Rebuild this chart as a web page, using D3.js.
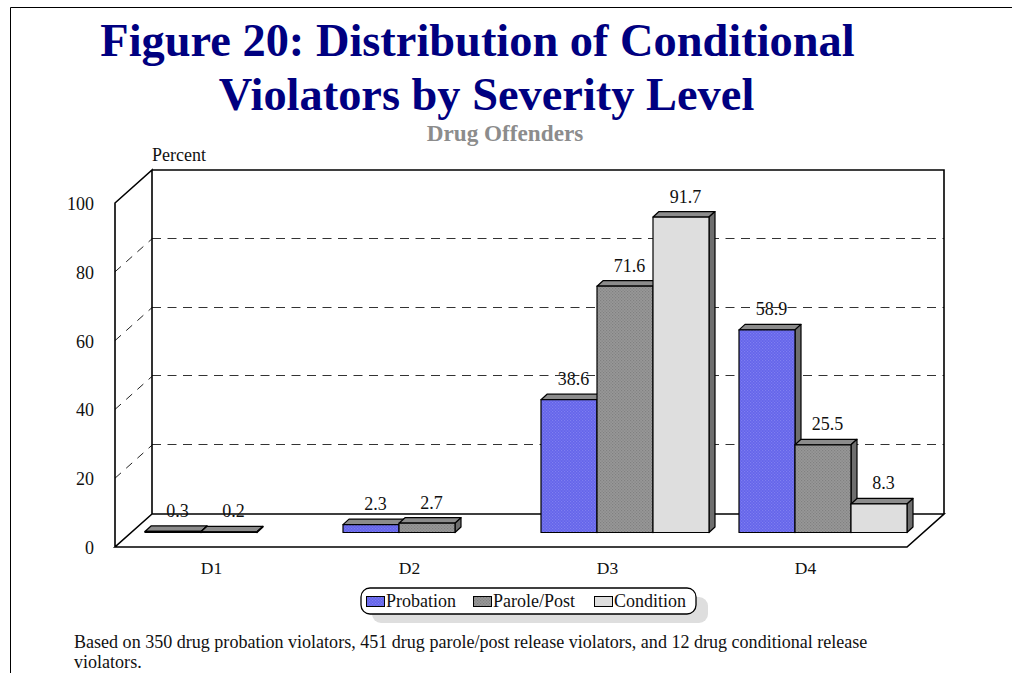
<!DOCTYPE html>
<html><head><meta charset="utf-8">
<script src="https://cdn.jsdelivr.net/npm/d3@7"></script>
<style>html,body{margin:0;padding:0;background:#fff;overflow:hidden}svg{display:block}text{font-family:"Liberation Serif",serif}</style>
</head><body><svg id="c" width="1012" height="673"></svg>
<script>
const categories = ["D1","D2","D3","D4"];
const seriesNames = ["Probation","Parole/Post","Condition"];
const probation = [0.3,2.3,38.6,58.9];
const parole = [0.2,2.7,71.6,25.5];
const condition = [null,null,91.7,8.3];
const yTicks = [0,20,40,60,80,100];
const titleLines = ["Figure 20: Distribution of Conditional","Violators by Severity Level"];
const subtitle = "Drug Offenders";
const footLines = ["Based on 350 drug probation violators, 451 drug parole/post release violators, and 12 drug conditional release","violators."];

const svg = d3.select("#c");
const defs = svg.append("defs");
function pat(id,bg,dot){
  const p = defs.append("pattern").attr("id",id).attr("width",3).attr("height",3).attr("patternUnits","userSpaceOnUse");
  p.append("rect").attr("width",3).attr("height",3).attr("fill",bg);
  p.append("rect").attr("x",0).attr("y",0).attr("width",1.2).attr("height",1.2).attr("fill",dot);
  p.append("rect").attr("x",1.5).attr("y",1.5).attr("width",1.2).attr("height",1.2).attr("fill",dot);
}
pat("pB","#6464ea","#7f7ff0");
pat("pG","#989898","#808080");
const fills = ["url(#pB)","url(#pG)","#dedede"];

// frame
svg.append("path").attr("d","M10.5,673V7.5H1012").attr("fill","none").attr("stroke","#000").attr("stroke-width",1);

// scales
const left=115,right=907,floorY=547,topY=203,wallDX=37,wallDY=33,barLift=14.5,barDX=6,barDY=5.5;
const y = d3.scaleLinear().domain([0,100]).range([floorY,topY]);
const x0 = d3.scaleBand().domain(categories).range([left,right]);
const groupPad = 30;
const x1 = d3.scaleBand().domain(seriesNames).range([groupPad,x0.step()]);

// gridlines
const g = svg.append("g");
yTicks.filter(t=>t>0&&t<100).forEach(t=>{
  g.append("line").attr("x1",left).attr("x2",left+wallDX).attr("y1",y(t)).attr("y2",y(t)-wallDY)
    .attr("stroke","#222").attr("stroke-width",1).attr("stroke-dasharray","8 7");
  const gy = Math.round(y(t)-wallDY)-0.5;
  g.append("line").attr("x1",left+wallDX).attr("x2",right+wallDX).attr("y1",gy).attr("y2",gy)
    .attr("stroke","#333").attr("stroke-width",1).attr("stroke-dasharray","9 6.5");
});
// walls
const wall = `M${left},${y(0)}V${y(100)}L${left+wallDX},${y(100)-wallDY}V${y(0)-wallDY}L${left},${y(0)}H${right}L${right+wallDX},${y(0)-wallDY}H${left+wallDX}M${left+wallDX},${y(100)-wallDY}H${right+wallDX}V${y(0)-wallDY}`;
g.append("path").attr("d",wall).attr("fill","none").attr("stroke","#000").attr("stroke-width",1.6);

// bars
const seriesVals = [probation,parole,condition];
categories.forEach((c,ci)=>{
  seriesNames.forEach((s,si)=>{
    const v = seriesVals[si][ci];
    if(v==null) return;
    const xl = x0(c)+x1(s), w = x1.bandwidth();
    const yb = y(0)-barLift, yt = y(v)-barLift;
    const b = svg.append("g").attr("stroke","#000").attr("stroke-width",1.2).attr("stroke-linejoin","round");
    b.append("path").attr("d",`M${xl},${yt}l${barDX},${-barDY}h${w}l${-barDX},${barDY}Z`).attr("fill","#8c8c8c");
    b.append("path").attr("d",`M${xl+w},${yt}l${barDX},${-barDY}V${yb-barDY}l${-barDX},${barDY}Z`).attr("fill","#6e6e6e");
    b.append("rect").attr("x",xl).attr("y",yt).attr("width",w).attr("height",yb-yt).attr("fill",fills[si]);
  });
});
// value labels
categories.forEach((c,ci)=>{
  seriesNames.forEach((s,si)=>{
    const v = seriesVals[si][ci];
    if(v==null) return;
    svg.append("text").attr("x",x0(c)+x1(s)+x1.bandwidth()/2+4.5).attr("y",y(v)-barLift-barDY-9)
      .attr("text-anchor","middle").attr("font-size",18).attr("fill","#111").text(v.toFixed(1));
  });
});

// axis labels
yTicks.forEach(t=>svg.append("text").attr("x",94).attr("y",y(t)+7).attr("text-anchor","end").attr("font-size",18).attr("fill","#111").text(t));
categories.forEach(c=>svg.append("text").attr("x",x0(c)+x0.bandwidth()/2-2.5).attr("y",574).attr("text-anchor","middle").attr("font-size",17.5).attr("fill","#111").text(c));
svg.append("text").attr("x",152).attr("y",161).attr("font-size",18).attr("fill","#111").text("Percent");

// titles
titleLines.forEach((t,i)=>svg.append("text").attr("x",i?486.5:477.5).attr("y",56+i*54).attr("text-anchor","middle")
  .attr("font-size",46.4).attr("font-weight","bold").attr("fill","#000080").text(t));
svg.append("text").attr("x",505).attr("y",141).attr("text-anchor","middle").attr("font-size",23.2).attr("font-weight","bold").attr("fill","#8c8c8c").text(subtitle);

// legend
svg.append("rect").attr("x",372).attr("y",597).attr("width",336).attr("height",26).attr("rx",9).attr("fill","#dedede");
svg.append("rect").attr("x",361).attr("y",588).attr("width",335).attr("height",26).attr("rx",9).attr("fill","#fff").attr("stroke","#000").attr("stroke-width",1.3);
const legX = [366,473,594], legT=[386,493,614];
seriesNames.forEach((s,i)=>{
  svg.append("rect").attr("x",legX[i]+0.5).attr("y",596.5).attr("width",18).attr("height",10).attr("fill",fills[i]).attr("stroke","#000").attr("stroke-width",1);
  svg.append("text").attr("x",legT[i]).attr("y",607).attr("font-size",18).attr("fill","#111").text(s);
});
// footnote
footLines.forEach((t,i)=>svg.append("text").attr("x",74).attr("y",648+i*20).attr("font-size",18.06).attr("fill","#111").text(t));
</script></body></html>
